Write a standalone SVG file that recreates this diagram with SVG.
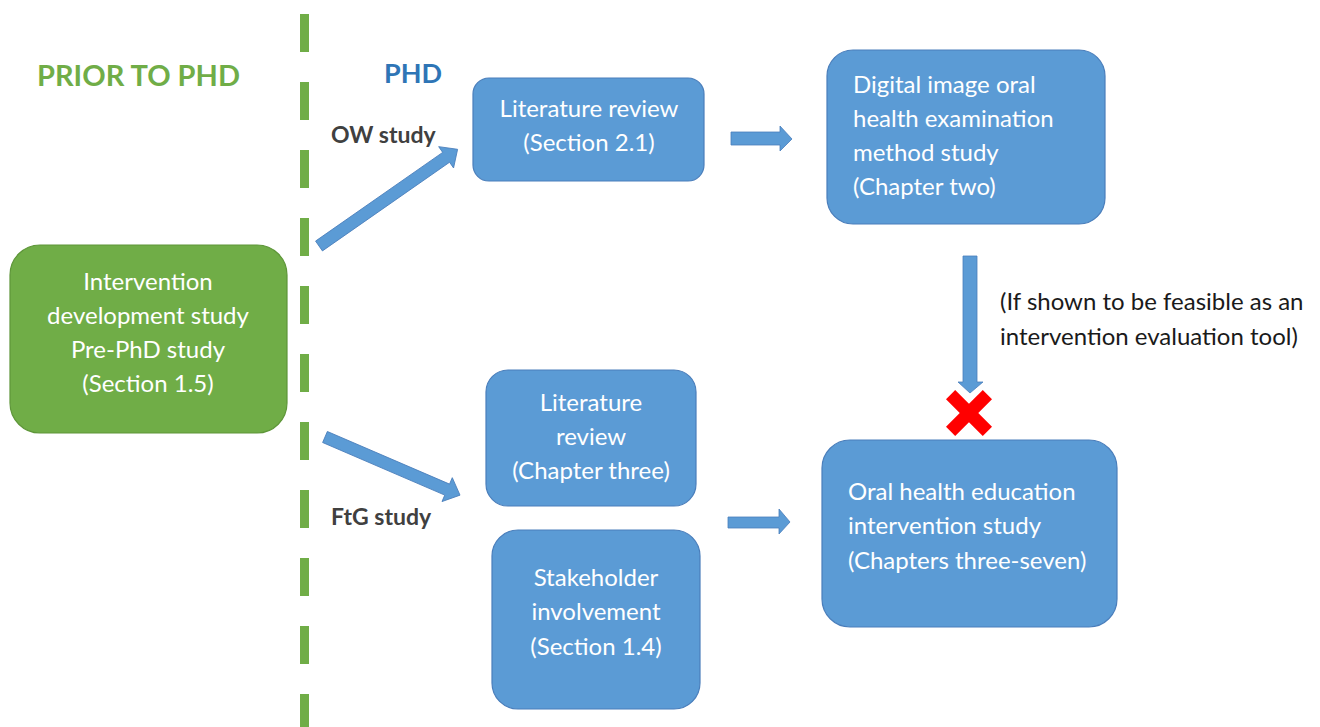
<svg xmlns="http://www.w3.org/2000/svg" width="1320" height="727" viewBox="0 0 1320 727">
  <style>
    .box { fill: #5B9BD5; stroke: #4A7EBB; stroke-width: 1.2; }
    .gbox { fill: #70AD47; stroke: #5E9639; stroke-width: 1.2; }
    .bt { font-family: Lato, "Open Sans", sans-serif; font-size: 24px; fill: #FFFFFF; }
    .c { text-anchor: middle; }
    .lbl { font-family: Lato, "Open Sans", sans-serif; font-size: 23px; font-weight: bold; fill: #404040; }
    .note { font-family: Lato, "Open Sans", sans-serif; font-size: 24px; fill: #1A1A1A; }
    .arrow { fill: #5B9BD5; stroke: #4A7EBB; stroke-width: 0.8; }
  </style>

  <rect width="1320" height="727" fill="#FFFFFF"/>

  <!-- divider between the two phases -->
  <line x1="304.5" y1="14" x2="304.5" y2="727" stroke="#70AD47" stroke-width="9" stroke-dasharray="38 30"/>

  <!-- phase headings -->
  <text x="37" y="86" font-family="Lato, 'Open Sans', sans-serif" font-size="29" font-weight="bold" fill="#70AD47">PRIOR TO PHD</text>
  <text x="384" y="83" font-family="Lato, 'Open Sans', sans-serif" font-size="27" font-weight="bold" fill="#2E75B6">PHD</text>

  <g id="node-prephd">
    <rect class="gbox" x="10" y="245" width="277" height="188" rx="30"/>
    <text class="bt c" x="148" y="290">Intervention</text>
    <text class="bt c" x="148" y="324">development study</text>
    <text class="bt c" x="148" y="358">Pre-PhD study</text>
    <text class="bt c" x="148" y="392">(Section 1.5)</text>
  </g>

  <g id="node-litreview-ow">
    <rect class="box" x="473" y="78" width="231" height="103" rx="16"/>
    <text class="bt c" x="589" y="117">Literature review</text>
    <text class="bt c" x="589" y="151">(Section 2.1)</text>
  </g>

  <g id="node-digital-image">
    <rect class="box" x="827" y="50" width="278" height="174" rx="26"/>
    <text class="bt" x="853" y="93">Digital image oral</text>
    <text class="bt" x="853" y="127">health examination</text>
    <text class="bt" x="853" y="161">method study</text>
    <text class="bt" x="853" y="195">(Chapter two)</text>
  </g>

  <g id="node-litreview-ftg">
    <rect class="box" x="486" y="370" width="210" height="136" rx="22"/>
    <text class="bt c" x="591" y="411">Literature</text>
    <text class="bt c" x="591" y="445">review</text>
    <text class="bt c" x="591" y="479">(Chapter three)</text>
  </g>

  <g id="node-stakeholder">
    <rect class="box" x="492" y="530" width="208" height="179" rx="26"/>
    <text class="bt c" x="596" y="586">Stakeholder</text>
    <text class="bt c" x="596" y="620">involvement</text>
    <text class="bt c" x="596" y="655">(Section 1.4)</text>
  </g>

  <g id="node-ohe">
    <rect class="box" x="822" y="440" width="295" height="187" rx="28"/>
    <text class="bt" x="848" y="500">Oral health education</text>
    <text class="bt" x="848" y="534">intervention study</text>
    <text class="bt" x="848" y="569">(Chapters three-seven)</text>
  </g>

  <!-- study labels and condition note -->
  <text class="lbl" x="331" y="143">OW study</text>
  <text class="lbl" x="331" y="525">FtG study</text>
  <text class="note" x="1000" y="310">(If shown to be feasible as an</text>
  <text class="note" x="1000" y="345">intervention evaluation tool)</text>

  <g id="connectors">
    <!-- diagonal block arrows out of the pre-PhD study -->
    <path class="arrow" transform="translate(319 246) rotate(-34.9)" d="M0,-6 L155,-6 L155,-13 L169,0 L155,13 L155,6 L0,6 Z"/>
    <path class="arrow" transform="translate(325 437) rotate(23.3)" d="M0,-6 L133,-6 L133,-13 L147,0 L133,13 L133,6 L0,6 Z"/>
    <!-- horizontal block arrows -->
    <path class="arrow" d="M731,132 L780,132 L780,126 L792,139 L780,151 L780,145 L731,145 Z"/>
    <path class="arrow" d="M728,517 L779,517 L779,509 L790,522 L779,534 L779,528 L728,528 Z"/>
    <!-- vertical block arrow -->
    <path class="arrow" d="M963,256 L977,256 L977,382 L983,382 L970,393 L958,382 L963,382 Z"/>
    <!-- red cross -->
    <g transform="translate(969 413) rotate(45)">
      <rect x="-26" y="-6.5" width="52" height="13" fill="#FF0000"/>
      <rect x="-6.5" y="-26" width="13" height="52" fill="#FF0000"/>
    </g>
  </g>
</svg>
